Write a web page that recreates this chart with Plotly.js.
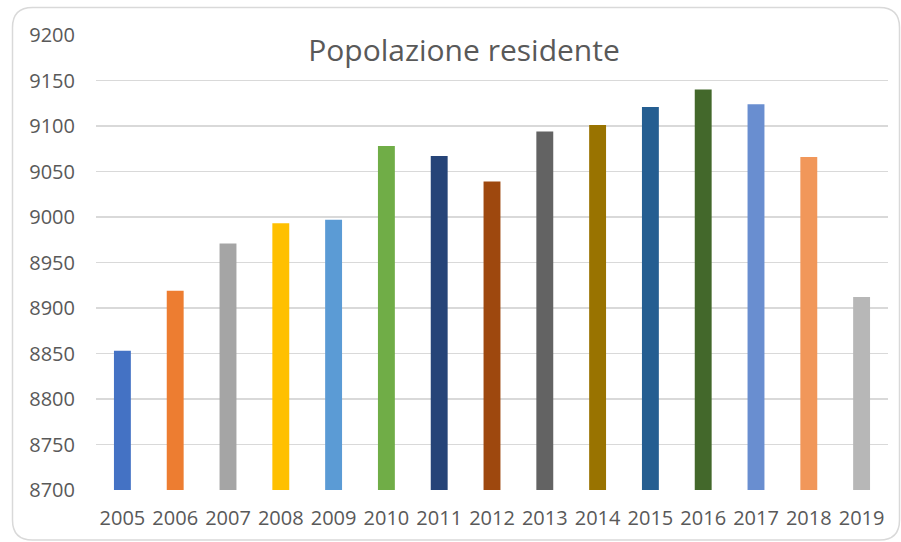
<!DOCTYPE html>
<html>
<head>
<meta charset="utf-8">
<script src="https://cdn.plot.ly/plotly-3.0.1.min.js"></script>
<style>
  html, body { margin: 0; padding: 0; background: #fff; }
  #chart { width: 901px; height: 542px; }
</style>
</head>
<body>
<div id="chart"></div>
<script>
'use strict';

const years = ['2005', '2006', '2007', '2008', '2009', '2010', '2011', '2012',
  '2013', '2014', '2015', '2016', '2017', '2018', '2019'];
const residents = [8853, 8919, 8971, 8993, 8997, 9078, 9067, 9039,
  9094, 9101, 9121, 9140, 9124, 9066, 8912];
const barColors = ['#4472C4', '#ED7D31', '#A5A5A5', '#FFC000', '#5B9BD5', '#70AD47',
  '#264478', '#9E480E', '#636363', '#997300', '#255E91', '#43682B',
  '#698ED0', '#F1975A', '#B7B7B7'];

const FONT = '"Open Sans", "Segoe UI", Calibri, sans-serif';
const GREY = '#595959';

// outer rounded frame, in paper units (plot area is 792 x 455 px)
const W = 792, H = 455;
const x0 = -83.5 / W, x1 = 803.5 / W;
const y0 = -50 / H, y1 = 482.5 / H;
const rx = 20 / W, ry = 20 / H;
const framePath = [
  'M', x0 + rx, y1,
  'L', x1 - rx, y1,
  'Q', x1, y1, x1, y1 - ry,
  'L', x1, y0 + ry,
  'Q', x1, y0, x1 - rx, y0,
  'L', x0 + rx, y0,
  'Q', x0, y0, x0, y0 + ry,
  'L', x0, y1 - ry,
  'Q', x0, y1, x0 + rx, y1,
  'Z'
].join(' ');

const data = [{
  type: 'bar',
  x: years,
  y: residents,
  marker: { color: barColors },
  hoverinfo: 'x+y'
}];

const layout = {
  width: 901,
  height: 542,
  margin: { l: 96, r: 13, t: 35, b: 52 },
  paper_bgcolor: '#ffffff',
  plot_bgcolor: '#ffffff',
  showlegend: false,
  bargap: 0.68,
  font: { family: FONT, color: GREY },
  title: {
    text: 'Popolazione residente',
    font: { family: FONT, size: 30, color: GREY },
    xref: 'paper',
    x: (464 - 96) / W,
    xanchor: 'center',
    yref: 'container',
    y: 1 - 50 / 542,
    yanchor: 'middle'
  },
  xaxis: {
    type: 'category',
    showgrid: false,
    showline: false,
    ticks: '',
    tickfont: { family: FONT, size: 20, color: GREY },
    ticklabelstandoff: 14
  },
  yaxis: {
    range: [8700, 9200],
    dtick: 50,
    showgrid: true,
    gridcolor: '#d9d9d9',
    gridwidth: 1.5,
    zeroline: false,
    showline: false,
    ticks: '',
    tickfont: { family: FONT, size: 20, color: GREY },
    ticklabelstandoff: 20
  },
  shapes: [{
    type: 'path',
    xref: 'paper',
    yref: 'paper',
    path: framePath,
    line: { color: '#d9d9d9', width: 1.5 },
    layer: 'below'
  }]
};

Plotly.newPlot('chart', data, layout, { displayModeBar: false, staticPlot: true });
</script>
</body>
</html>
